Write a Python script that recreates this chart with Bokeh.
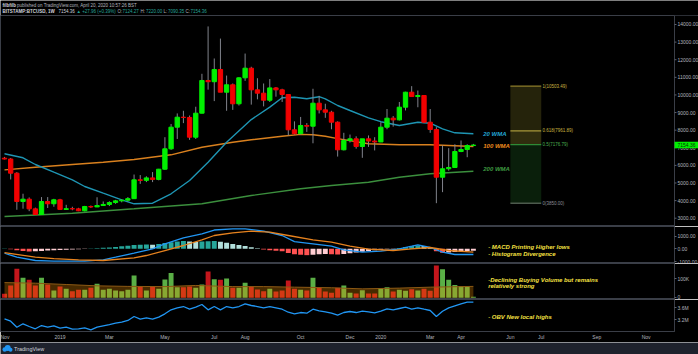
import numpy as np
import pandas as pd
from bokeh.plotting import figure
from bokeh.layouts import column
from bokeh.models import (Range1d, FixedTicker, NumeralTickFormatter, PrintfTickFormatter,
                          ColumnDataSource)
from bokeh.core.properties import value
from bokeh.embed import file_html
from bokeh.resources import INLINE

# ---------------- data ----------------
first_week = "2018-11-05"

opens = [6410, 6360, 5556, 3950, 4080, 3530, 3210, 3950, 3820, 4045,
         3500, 3540, 3530, 3420, 3665, 3640, 3720, 3780, 3890, 3985,
         4025, 4110, 5180, 5150, 5290, 5200, 5783, 6940, 8168, 8736,
         8720, 7600, 8963, 10820, 10750, 11445, 10156, 10575, 9497, 10972,
         11519, 10290, 10100, 9700, 10400, 10290, 10025, 8020, 7800, 8265,
         8225, 9531, 9153, 9020, 8452, 6884, 7413, 7507, 7072, 7507,
         7380, 7330, 8168, 8679, 8584, 9305, 10156, 9909, 9968, 8452,
         8037, 5329, 5806, 5880, 6788, 6900, 7126]
highs = [6480, 6420, 5620, 4390, 4180, 3600, 4200, 4200, 4100, 4100,
         3760, 3650, 3590, 3700, 3720, 4190, 3950, 3960, 4040, 4080,
         4200, 5480, 5450, 5380, 5620, 5800, 7600, 8350, 8950, 9100,
         8830, 9330, 11200, 13890, 12070, 13200, 11100, 10650, 11000, 12350,
         11600, 10950, 10650, 10900, 10450, 10350, 10050, 8500, 8750, 8400,
         10350, 9950, 9500, 9100, 8500, 7850, 7750, 7650, 7450, 7700,
         7600, 8450, 9200, 8800, 9600, 10180, 10500, 10250, 9980, 9200,
         8170, 7130, 6977, 7200, 7413, 7200, 7220]
lows = [6340, 5200, 3480, 3540, 3400, 3180, 3200, 3580, 3650, 3480,
        3470, 3450, 3400, 3390, 3580, 3630, 3700, 3690, 3820, 3900,
        3950, 4100, 4950, 5050, 5050, 5150, 5750, 6880, 7500, 8400,
        7450, 7500, 8950, 10300, 9650, 11000, 9100, 9150, 9400, 10800,
        9450, 9750, 9350, 9600, 9900, 9600, 7700, 7750, 7750, 7900,
        7254, 8950, 8700, 8050, 6500, 6850, 7300, 6950, 6430, 7050,
        6850, 7320, 8050, 8200, 8550, 9120, 9950, 9300, 8400, 7850,
        3853, 4480, 5700, 5850, 6750, 6464, 7090]
closes = [6360, 5556, 3950, 4080, 3530, 3210, 3950, 3820, 4045, 3500,
          3540, 3530, 3420, 3665, 3640, 3720, 3780, 3890, 3985, 4025,
          4110, 5180, 5150, 5290, 5200, 5783, 6940, 8168, 8736, 8720,
          7600, 8963, 10820, 10750, 11445, 10156, 10575, 9497, 10972, 11519,
          10290, 10100, 9700, 10400, 10290, 10025, 8020, 7800, 8265, 8225,
          9531, 9153, 9020, 8452, 6884, 7413, 7507, 7072, 7507, 7380,
          7330, 8168, 8679, 8584, 9305, 10156, 9909, 9968, 8452, 8037,
          5329, 5806, 5880, 6788, 6900, 7126, 7154.36]

# weighted moving averages (bar index, price)
wma20_idx = [0, 3, 5, 8, 11, 13, 16, 19, 21, 24, 27, 30, 33, 36, 40, 43, 45, 47, 49, 51, 52, 54, 56, 59, 61, 64, 67, 69, 71, 73, 76]
wma20_val = [6657, 6430, 6050, 5613, 5180, 4800, 4420, 4045, 3818, 3850, 4386, 5140, 6180, 7316, 8600, 9305, 9838, 9872, 9780, 9900, 9780, 9400, 9117, 8700, 8480, 8264, 8452, 8395, 8077, 7850, 7793]
wma100_idx = [0, 5, 11, 16, 21, 27, 32, 37, 40, 45, 48, 50, 52, 54, 59, 64, 69, 76]
wma100_val = [5745, 5897, 6050, 6180, 6334, 6600, 7032, 7316, 7452, 7657, 7760, 7737, 7657, 7520, 7225, 7169, 7169, 7072]
wma200_idx = [0, 11, 21, 32, 40, 48, 53, 59, 64, 69, 76]
wma200_val = [3097, 3285, 3534, 3818, 4290, 4670, 4857, 5045, 5329, 5522, 5670]
ma_names = ["20 WMA", "100 WMA", "200 WMA"]

fib_levels = ["1", "0.618", "0.5", "0"]
fib_prices = [10503.49, 7961.89, 7176.79, 3850.00]

price_ticks = [3000, 4000, 5000, 6000, 7000, 8000, 9000, 10000, 11000, 12000, 13000, 14000]

# MACD
macd_hist = [30, -40, -120, -180, -220, -200, -170, -140, -110, -90,
             -70, -50, -40, -20, 20, 50, 80, 110, 150, 200,
             250, 300, 320, 330, 310, 380, 450, 520, 580, 610,
             570, 540, 570, 600, 620, 560, 470, 380, 300, 220,
             130, 40, -50, -110, -150, -200, -330, -420, -470, -500,
             -460, -420, -400, -420, -450, -400, -350, -300, -240, -180,
             -120, -80, -40, -10, 60, 150, 220, 260, 230, 80,
             -200, -320, -300, -260, -220, -180, -150]
macd_idx = [0, 2, 5, 8, 13, 16, 18, 21, 24, 26, 29, 32, 34, 37, 39, 42, 45, 47, 50, 53, 55, 58, 61, 64, 66, 67, 69, 71, 73, 76]
macd_val = [-350, -660, -920, -976, -976, -866, -661, -346, 0, 394, 866, 1181, 1480, 1575, 1575, 1386, 1047, 560, 394, 205, -80, -268, -189, 0, 205, 315, 102, -268, -449, -449]
signal_idx = [0, 5, 8, 12, 16, 21, 23, 26, 29, 32, 34, 37, 40, 43, 46, 50, 53, 56, 59, 63, 66, 69, 72, 76]
signal_val = [-300, -661, -780, -866, -921, -709, -528, -134, 260, 709, 1047, 1260, 1386, 1307, 1047, 709, 520, 205, -31, -134, 0, 102, -134, -268]

# Volume (thousands) and its moving average
volume_k = [21, 65, 153, 105, 95, 65, 105, 70, 38, 59,
            47, 35, 42, 42, 53, 74, 42, 47, 38, 35,
            42, 117, 61, 38, 59, 47, 96, 130, 56, 56,
            59, 53, 70, 138, 98, 95, 101, 53, 53, 79,
            59, 44, 35, 47, 33, 38, 91, 47, 42, 38,
            105, 53, 33, 26, 53, 65, 26, 23, 40, 23,
            23, 51, 56, 33, 42, 37, 45, 38, 47, 37,
            170, 150, 95, 68, 61, 59, 5]
vol_ma_idx = [0, 5, 10, 15, 20, 26, 31, 37, 42, 47, 53, 58, 64, 69, 74, 76]
vol_ma_val = [80, 77, 70, 63, 60, 59, 65, 59, 59, 56, 53, 47, 51, 56, 59, 60]

# OBV (millions)
obv_m = [3.233, 3.153, 2.953, 3.067, 2.977, 2.900, 3.010, 2.953, 3.000, 2.920,
         2.953, 2.887, 2.900, 2.933, 2.867, 2.953, 3.000, 3.043, 3.087, 3.120,
         3.177, 3.310, 3.220, 3.267, 3.220, 3.287, 3.400, 3.533, 3.600, 3.643,
         3.553, 3.620, 3.710, 3.533, 3.643, 3.533, 3.643, 3.600, 3.643, 3.733,
         3.677, 3.643, 3.600, 3.643, 3.600, 3.553, 3.453, 3.400, 3.443, 3.420,
         3.553, 3.500, 3.467, 3.420, 3.353, 3.443, 3.477, 3.443, 3.487, 3.467,
         3.430, 3.487, 3.567, 3.533, 3.577, 3.620, 3.553, 3.600, 3.553, 3.510,
         3.310, 3.487, 3.600, 3.667, 3.733, 3.787, 3.790]

tick_dates = ["2018-11-05", "2019-01-07", "2019-03-04", "2019-05-06", "2019-07-01", "2019-08-05",
              "2019-10-07", "2019-12-02", "2020-01-06", "2020-03-02", "2020-04-06", "2020-06-01",
              "2020-07-06", "2020-09-07", "2020-11-02"]
tick_labels = ["Nov", "2019", "Mar", "May", "Jul", "Aug", "Oct", "Dec", "2020", "Mar", "Apr",
               "Jun", "Jul", "Sep", "Nov"]

header_line1_user = "filbfilb"
header_line1_rest = "published on TradingView.com, April 20, 2020 10:57:26 BST"
symbol_text = "BITSTAMP:BTCUSD, 1W"
last_text = "7154.36"
change_text = "\u25b2 +27.96 (+0.39%)"
ohlc_keys = ["O:", "H:", "L:", "C:"]
ohlc_vals = ["7124.27", "7220.00", "7090.35", "7154.36"]

notes_macd = ["- MACD Printing Higher lows", "- Histogram Divergence"]
notes_vol = ["-Declining Buying Volume but remains", "relatively strong"]
notes_obv = ["- OBV New local highs"]

# ---------------- styling helpers ----------------
FONT = "Liberation Sans"
BG = "#000000"
EDGE = "#3a3e47"
LBL = "#b2b5be"
FRAME_W = 674
X0, X1 = -0.65, 108.6                      # visible bar-index span of the chart area
xr = Range1d(X0, X1)
PX = FRAME_W / (X1 - X0)                   # pixels per bar
X_FULL = X0 + 698 / PX                     # index at the right edge of the window
t0 = pd.Timestamp(first_week)
tick_idx = [int((pd.Timestamp(d) - t0).days // 7) for d in tick_dates]
n = len(closes)
idx = list(range(n))
is_up = [c >= o for o, c in zip(opens, closes)]


def pane(h, yr, bottom=0, xaxis=False):
    p = figure(frame_width=FRAME_W, frame_height=h, x_range=xr, y_range=yr,
               output_backend="svg", toolbar_location=None,
               background_fill_color=BG, border_fill_color=BG,
               min_border_left=0, min_border_right=24, min_border_top=0,
               min_border_bottom=bottom,
               x_axis_location="below" if xaxis else None, y_axis_location="right",
               outline_line_color=EDGE, outline_line_width=1)
    p.grid.visible = False
    ax = p.yaxis[0]
    ax.axis_line_color = None
    ax.major_tick_line_color = "#5d606b"
    ax.major_tick_out = 2
    ax.major_tick_in = 0
    ax.minor_tick_line_color = None
    ax.major_label_text_color = LBL
    ax.major_label_text_font_size = "5px"
    ax.major_label_text_font = FONT
    ax.major_label_standoff = 1
    return p


def strip(h, bg):
    p = figure(frame_width=698, frame_height=h, x_range=Range1d(0, 698), y_range=Range1d(h, 0),
               output_backend="svg", toolbar_location=None,
               background_fill_color=bg, border_fill_color=bg,
               min_border=0, x_axis_location=None, y_axis_location=None,
               outline_line_color=None)
    p.grid.visible = False
    return p


# ---------------- header ----------------
hd = strip(15, BG)
hd.text(x=[2], y=[4.5], text=[header_line1_user], text_font=value(FONT),
        text_font_size="4.5px", text_font_style="bold", text_color="#d1d4dc", text_baseline="middle")
hd.text(x=[16.5], y=[4.5], text=[header_line1_rest], text_font=value(FONT),
        text_font_size="4.5px", text_color="#b2b5be", text_baseline="middle")
seg_text = [symbol_text, last_text, change_text]
seg_x = [2, 58, 76]
seg_col = ["#d1d4dc", "#d1d4dc", "#26a69a"]
for k, v, xk, xv in zip(ohlc_keys, ohlc_vals, [117, 140, 163, 185], [122, 145.5, 167.5, 190]):
    seg_text += [k, v]
    seg_x += [xk, xv]
    seg_col += ["#b2b5be", "#26a69a"]
hd.text(x=seg_x[:1], y=[10.5], text=seg_text[:1], text_font=value(FONT), text_font_size="4.5px",
        text_font_style="bold", text_color="#d1d4dc", text_baseline="middle")
hd.text(x=seg_x[1:], y=[10.5] * (len(seg_x) - 1), text=seg_text[1:], text_font=value(FONT),
        text_font_size="4.5px", text_color=seg_col[1:], text_baseline="middle")

# ---------------- main price pane (full width, price scale drawn on its right strip) ----------------
Y0, Y1 = 2529, 14511
pm = figure(frame_width=698, frame_height=211, x_range=Range1d(X0, X_FULL), y_range=Range1d(Y0, Y1),
            output_backend="svg", toolbar_location=None,
            background_fill_color=BG, border_fill_color=BG, min_border=0,
            x_axis_location=None, y_axis_location=None, outline_line_color=EDGE)
pm.grid.visible = False

# fib retracement box (bars 82..87)
FL, FR = 82, 87
pm.quad(left=[FL, FL, FL], right=[FR, FR, FR],
        top=fib_prices[0:3], bottom=fib_prices[1:4],
        fill_color=["#6b6420", "#6b6420", "#1d5a1f"], fill_alpha=[0.35, 0.45, 0.35], line_color=None)
pm.segment(x0=[FL] * 4, x1=[FR] * 4, y0=fib_prices, y1=fib_prices,
           line_color=["#8c7d2a", "#a8983a", "#2e8b36", "#4d5a4d"], line_width=1.3)
pm.text(x=[FR + 0.2] * 4, y=fib_prices,
        text=[f"{l}({p:.2f})" for l, p in zip(fib_levels, fib_prices)],
        text_font=value(FONT), text_font_size="4.5px",
        text_color=["#c9b541", "#c9b541", "#4caf50", "#8a8d96"], text_baseline="middle")

pm.line(wma200_idx, wma200_val, line_color="#3b8f3d", line_width=1.4)
pm.line(wma100_idx, wma100_val, line_color="#d9801e", line_width=1.4)
pm.line(wma20_idx, wma20_val, line_color="#1e95b3", line_width=1.4)

src = ColumnDataSource(dict(
    x=idx, h=highs, l=lows,
    top=[max(o, c) for o, c in zip(opens, closes)],
    bot=[min(o, c) for o, c in zip(opens, closes)],
    col=["#00f000" if u else "#f20000" for u in is_up]))
pm.segment(x0="x", x1="x", y0="l", y1="h", line_color="#80838c", line_width=1, source=src)
pm.vbar(x="x", width=0.7, top="top", bottom="bot", fill_color="col", line_color="col", source=src)

pm.text(x=[77.6] * 3, y=[wma20_val[-1], wma100_val[-1], wma200_val[-1] + 100], text=ma_names,
        text_font=value(FONT), text_font_size="6px", text_font_style="bold italic",
        text_color=["#22a6d4", "#f08c1e", "#3f9c42"], text_baseline="middle")

# price scale strip
pm.quad(left=[X1], right=[X_FULL], bottom=[Y0], top=[Y1], fill_color=BG, line_color=None)
pm.segment(x0=[X1], x1=[X1], y0=[Y0], y1=[Y1], line_color=EDGE, line_width=1)
pm.segment(x0=[X1] * len(price_ticks), x1=[X1 + 2 / PX] * len(price_ticks),
           y0=price_ticks, y1=price_ticks, line_color="#5d606b", line_width=1)
pm.text(x=[X1 + 3 / PX] * len(price_ticks), y=price_ticks,
        text=[f"{t:.2f}" for t in price_ticks], text_font=value(FONT), text_font_size="5px",
        text_color=LBL, text_baseline="middle")
last = closes[-1]
tag_half = 3.2 * (Y1 - Y0) / 211
pm.quad(left=[X1], right=[X_FULL], bottom=[last - tag_half], top=[last + tag_half],
        fill_color="#00f000", line_color=None)
pm.text(x=[X1 + 3 / PX], y=[last], text=[f"{last:.2f}"], text_font=value(FONT),
        text_font_size="5px", text_color="#053305", text_baseline="middle")

# ---------------- MACD pane ----------------
pmacd = pane(37, Range1d(-1157, 1756))
pmacd.yaxis[0].ticker = FixedTicker(ticks=[-1000, 0, 1000])
pmacd.yaxis[0].formatter = NumeralTickFormatter(format="0.00")
hcol = []
prev = 0
for hv in macd_hist:
    if hv >= 0:
        hcol.append("#26a69a" if hv >= prev else "#b2dfdb")
    else:
        hcol.append("#ff5252" if hv <= prev else "#ffcdd2")
    prev = hv
pmacd.vbar(x=idx, width=0.8, top=macd_hist, bottom=0, fill_color=hcol, line_color=None)
pmacd.line(macd_idx, macd_val, line_color="#2196f3", line_width=1.3)
pmacd.line(signal_idx, signal_val, line_color="#e6821e", line_width=1.3)
pmacd.text(x=[78.4, 78.4], y=[130, -400], text=notes_macd, text_font=value(FONT),
           text_font_size="6px", text_font_style="bold italic", text_color="#f5e042",
           text_baseline="middle")

# ---------------- Volume pane ----------------
pv = pane(36, Range1d(-8.9, 180.5))
pv.yaxis[0].ticker = FixedTicker(ticks=[0, 100])
pv.yaxis[0].major_label_overrides = {0: "0", 100: "100K"}
pv.vbar(x=idx, width=0.8, top=volume_k, bottom=0,
        fill_color=["#5aaf46" if u else "#c4161c" for u in is_up], line_color=None)
pv.varea(x=vol_ma_idx, y1=[0] * len(vol_ma_idx), y2=vol_ma_val, fill_color="#ff9800", fill_alpha=0.28)
pv.line(vol_ma_idx, vol_ma_val, line_color="#8d5a14", line_width=1)
pv.text(x=[78.4, 78.4], y=[94.7, 59.5], text=notes_vol, text_font=value(FONT),
        text_font_size="6px", text_font_style="bold italic", text_color="#f5e042",
        text_baseline="middle")

# ---------------- OBV pane ----------------
po = pane(32, Range1d(2.81, 3.877), bottom=11, xaxis=True)
po.yaxis[0].ticker = FixedTicker(ticks=[3.2, 3.6])
po.yaxis[0].formatter = PrintfTickFormatter(format="%.1fM")
po.line(idx, obv_m, line_color="#2196f3", line_width=1.3)
po.text(x=[78.4], y=[3.287], text=notes_obv, text_font=value(FONT),
        text_font_size="6px", text_font_style="bold italic", text_color="#f5e042",
        text_baseline="middle")
xa = po.xaxis[0]
xa.ticker = FixedTicker(ticks=tick_idx)
xa.major_label_overrides = {i: t for i, t in zip(tick_idx, tick_labels)}
xa.axis_line_color = None
xa.major_tick_line_color = None
xa.major_tick_out = 0
xa.major_tick_in = 0
xa.minor_tick_line_color = None
xa.minor_tick_out = 0
xa.minor_tick_in = 0
xa.major_label_text_color = LBL
xa.major_label_text_font_size = "5px"
xa.major_label_text_font = FONT
xa.major_label_standoff = 2

# ---------------- footer ----------------
ft = strip(12, "#1e222d")
ft.scatter(x=[4.2, 7.2, 10.0], y=[7.0, 5.6, 7.3], size=[4.5, 6, 4], marker="circle",
           fill_color="#2196f3", line_color=None)
ft.text(x=[13.5], y=[6.5], text=["TradingView"], text_font=value(FONT), text_font_size="5.5px",
        text_color="#d1d4dc", text_baseline="middle")

layout = column(hd, pm, pmacd, pv, po, ft, spacing=0)
open("out.html", "w").write(file_html(layout, INLINE))
